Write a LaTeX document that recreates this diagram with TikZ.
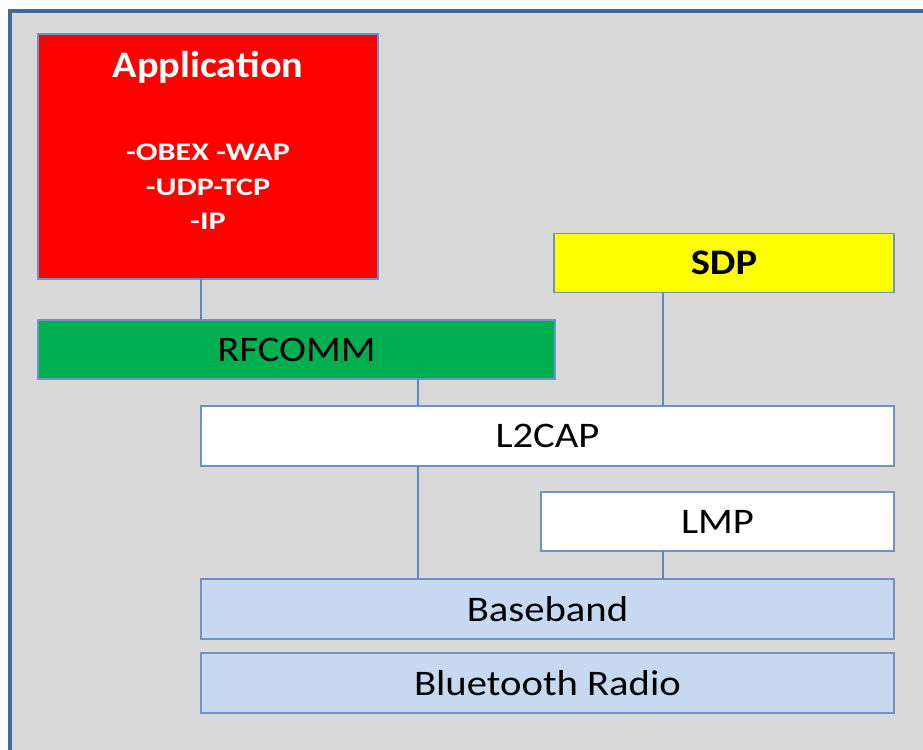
\documentclass[tikz,border=0pt]{standalone}
\usepackage{graphicx}
\usepackage{fontspec}
\setmainfont{Carlito}
\newcommand{\wx}[1]{\scalebox{1.13}[1]{#1}}
\begin{document}
\begin{tikzpicture}[x=0.75pt,y=-0.75pt,
  box/.style={draw=boxline,line width=0.9pt,inner sep=0pt,outer sep=0pt,rectangle},
  lbl/.style={font=\fontsize{27}{30}\selectfont,text=black},
  conn/.style={draw=connline,line width=1pt}]
\definecolor{frameblue}{HTML}{41699A}
\definecolor{boxline}{HTML}{6F93C6}
\definecolor{connline}{HTML}{5E86C0}
\definecolor{panel}{HTML}{D9D9D9}
\definecolor{appred}{HTML}{FF0000}
\definecolor{rfgreen}{HTML}{00B050}
\definecolor{sdpyellow}{HTML}{FFFF00}
\definecolor{lightblue}{HTML}{C6D9F1}
\useasboundingbox (0,0) rectangle (923,749);
\clip (0,0) rectangle (923,749);
\fill[white] (0,0) rectangle (923,749);
\draw[frameblue,line width=2.8pt,fill=panel] (10,11) rectangle (940,770);
% boxes
\node[box,fill=appred,minimum width=255pt,minimum height=183.75pt] (app) at (208,156.5) {};
\node[font=\bfseries\fontsize{28}{30}\selectfont,text=white] (apptitle) at (208,67) {\scalebox{1.08}[1]{Application}};
\node[font=\bfseries\fontsize{19}{26}\selectfont,text=white,align=center] (applist) at (208,187) {\scalebox{1.27}[1]{-OBEX -WAP}\\\scalebox{1.27}[1]{-UDP-TCP}\\\scalebox{1.27}[1]{-IP}};
\node[box,fill=rfgreen,minimum width=387.75pt,minimum height=44.25pt,lbl] (rfcomm) at (296.5,349.5) {\wx{RFCOMM}};
\node[box,fill=sdpyellow,minimum width=255pt,minimum height=44.25pt,lbl,font=\bfseries\fontsize{27}{30}\selectfont] (sdp) at (724,263) {\wx{SDP}};
\node[box,fill=white,minimum width=519.75pt,minimum height=45pt,lbl] (l2cap) at (547.5,436) {\wx{L2CAP}};
\node[box,fill=white,minimum width=264.75pt,minimum height=44.25pt,lbl] (lmp) at (717.5,521.5) {\wx{LMP}};
\node[box,fill=lightblue,minimum width=519.75pt,minimum height=45pt,lbl] (baseband) at (547.5,609) {\wx{Baseband}};
\node[box,fill=lightblue,minimum width=519.75pt,minimum height=45pt,lbl] (radio) at (547.5,683) {\wx{Bluetooth Radio}};
% connectors
\coordinate (c1) at (201,0);
\coordinate (c2) at (418,0);
\coordinate (c3) at (663,0);
\draw[conn] (app.south -| c1) -- (rfcomm.north -| c1);
\draw[conn] (rfcomm.south -| c2) -- (l2cap.north -| c2);
\draw[conn] (sdp.south -| c3) -- (l2cap.north -| c3);
\draw[conn] (l2cap.south -| c2) -- (baseband.north -| c2);
\draw[conn] (lmp.south -| c3) -- (baseband.north -| c3);
\end{tikzpicture}
\end{document}
